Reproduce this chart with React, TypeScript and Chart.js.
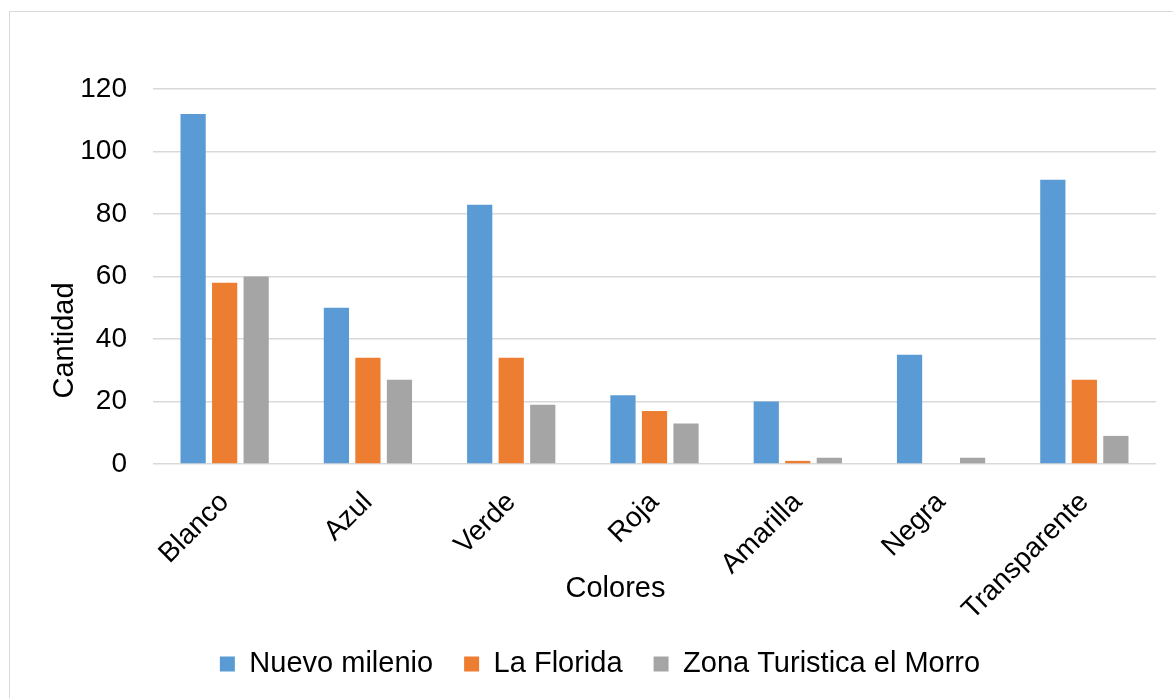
import { useEffect, useRef } from 'react';
import { Chart, registerables } from 'chart.js';

Chart.register(...registerables);

const categories = ['Blanco', 'Azul', 'Verde', 'Roja', 'Amarilla', 'Negra', 'Transparente'];
const nuevoMilenio = [112, 50, 83, 22, 20, 35, 91];
const laFlorida = [58, 34, 34, 17, 1, 0, 27];
const zonaTuristica = [60, 27, 19, 13, 2, 2, 9];
const seriesNames = ['Nuevo milenio', 'La Florida', 'Zona Turistica el Morro'];
const seriesColors = ['#5B9BD5', '#ED7D31', '#A5A5A5'];
const xTitle = 'Colores';
const yTitle = 'Cantidad';

const FONT = '"Liberation Sans", Arial, sans-serif';

const axisTitlePlugin = {
  id: 'axisTitles',
  afterDraw(chart: any) {
    const ctx = chart.ctx;
    ctx.save();
    ctx.fillStyle = '#000000';
    ctx.font = `29px ${FONT}`;
    ctx.textAlign = 'center';
    ctx.textBaseline = 'alphabetic';
    ctx.fillText(xTitle, 605.5, 585);
    ctx.translate(63, 328.5);
    ctx.rotate(-Math.PI / 2);
    ctx.fillText(yTitle, 0, 0);
    ctx.restore();
  },
};

export default function App() {
  const ref = useRef<HTMLCanvasElement | null>(null);

  useEffect(() => {
    if (!ref.current) return;
    const data = [nuevoMilenio, laFlorida, zonaTuristica];
    const chart = new Chart(ref.current, {
      type: 'bar',
      data: {
        labels: categories,
        datasets: seriesNames.map((name, i) => ({
          label: name,
          data: data[i],
          backgroundColor: seriesColors[i],
          borderWidth: 0,
          categoryPercentage: 0.66,
          barPercentage: 0.8,
        })),
      },
      options: {
        responsive: false,
        animation: false,
        layout: { padding: { top: 77, right: 17, bottom: 9.5, left: 34 } },
        plugins: {
          tooltip: { enabled: false },
          legend: {
            position: 'bottom',
            labels: {
              boxWidth: 15,
              boxHeight: 15,
              padding: 31,
              color: '#000000',
              font: { family: FONT, size: 29 },
            },
          },
        },
        scales: {
          x: {
            grid: { display: false },
            border: { display: false },
            ticks: {
              color: '#000000',
              font: { family: FONT, size: 28 },
              maxRotation: 45,
              minRotation: 45,
              padding: 14,
            },
            afterFit(scale: any) {
              scale.height = 154.5;
            },
          },
          y: {
            min: 0,
            max: 120,
            grid: { color: '#D9D9D9', lineWidth: 1.5, drawTicks: false },
            border: { display: false },
            ticks: {
              stepSize: 20,
              color: '#000000',
              font: { family: FONT, size: 28 },
              padding: 26,
            },
            afterFit(scale: any) {
              scale.width = 109;
            },
          },
        },
      },
      plugins: [axisTitlePlugin],
    });
    return () => chart.destroy();
  }, []);

  return (
    <div
      style={{
        position: 'fixed',
        left: 9,
        top: 11,
        width: 1200,
        height: 720,
        border: '1px solid #D9D9D9',
        boxSizing: 'border-box',
        background: '#ffffff',
      }}
    >
      <canvas ref={ref} width={1163} height={686} style={{ display: 'block', width: 1163, height: 686 }} />
    </div>
  );
}
